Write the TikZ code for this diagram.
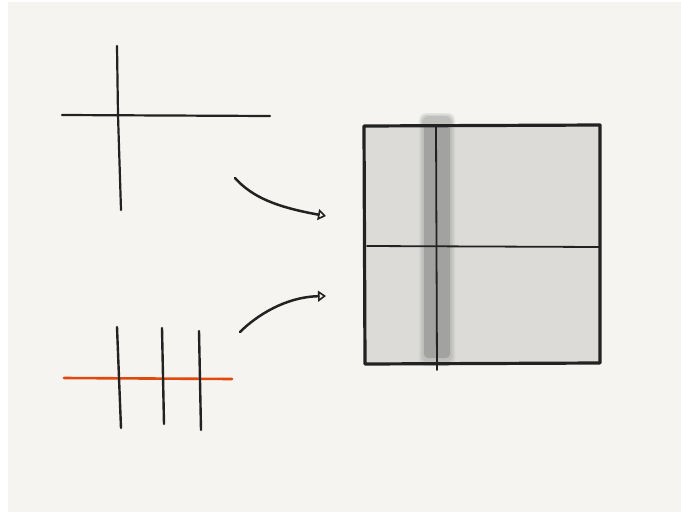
\documentclass[tikz,border=0pt]{standalone}
\usetikzlibrary{arrows.meta}

\definecolor{papel}{HTML}{F5F4F0}
\definecolor{caixa}{HTML}{DCDBD8}
\definecolor{tinta}{HTML}{222222}
\definecolor{laranja}{HTML}{E0480E}
\definecolor{faixa}{HTML}{828282}
\definecolor{faixameia}{HTML}{A2A2A1}
\definecolor{faixaclara}{HTML}{BEBEBC}

\tikzset{
	traco/.style={draw=tinta, line width=2.2pt, line cap=round},
	borda/.style={draw=tinta, line width=3.2pt, line join=round},
	seta/.style={draw=tinta, line width=2.5pt, line cap=round,
		-{Triangle[open, length=8pt, width=11pt, line width=1.6pt]}}
}

\begin{document}
\begin{tikzpicture}[x=1pt, y=-1pt]

\useasboundingbox (0,0) rectangle (681,512);
\fill[white] (0,0) rectangle (681,512);
\fill[papel] (8,2) rectangle (681,512);

% cruz de cima
	\draw[traco] (117,46) -- (118,115) -- (121,210);
	\draw[traco] (62,115) -- (270,116);

% linhas de baixo
	\draw[traco, draw=laranja, line width=2.6pt] (64,378) -- (232,379);
	\foreach \xa/\ya/\xb/\yb in {117/327/121/428, 162/328/164/424, 199/331/201/430}
		\draw[traco, line width=2.4pt] (\xa,\ya) -- (\xb,\yb);

% setas
	\coordinate (ini1) at (235,178);
	\coordinate (fim1) at (326,216);
	\coordinate (ini2) at (240,332);
	\coordinate (fim2) at (326,296);
	\draw[seta] (ini1) .. controls (252,197) and (276,207) .. (fim1);
	\draw[seta] (ini2) .. controls (256,316) and (285,297) .. (fim2);

% caixa
	\fill[caixa] (364,126) rectangle (600,363);
	\foreach \d/\op in {3/0.3, 1.5/0.5, 0/0.9}
		\fill[faixaclara, opacity=\op, rounded corners=7pt] (422-\d,116-\d) rectangle (452+\d,363+\d);
	\shade[left color=faixameia, middle color=faixa, right color=faixameia, rounded corners=4pt]
		(424,124) rectangle (450,358);
	\draw[borda] (364,126) -- (600,125) -- (600,363) -- (365,364) -- cycle;
	\draw[traco, line width=1.8pt] (367,246) -- (599,247);
	\draw[traco, line width=1.8pt] (436,126) -- (437,370);

\end{tikzpicture}
\end{document}
